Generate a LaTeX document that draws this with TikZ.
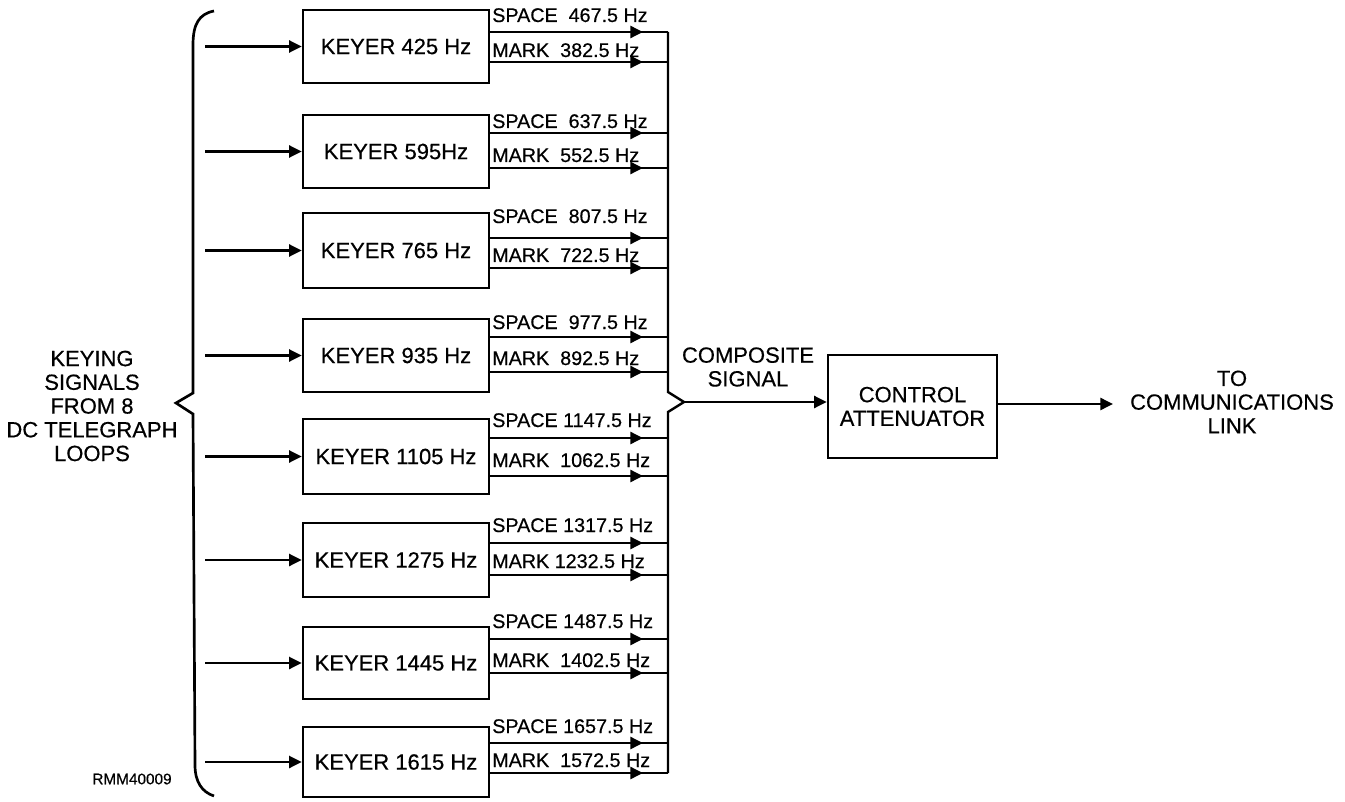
\documentclass[tikz,border=0pt]{standalone}
\usepackage{fontspec}
\setmainfont[FakeBold=0.5]{Liberation Sans}
\usetikzlibrary{arrows.meta}
\begin{document}
\begin{tikzpicture}[x=0.75pt,y=-0.75pt,
  keyer/.style={draw,line width=1.9pt,minimum width=139.5pt,inner sep=0pt,font=\fontsize{16.5}{19}\selectfont},
  flabel/.style={inner sep=0pt,anchor=base west,font=\fontsize{14.8}{17}\selectfont},
  wire/.style={line width=1.8pt},
  arr/.style={wire,-{Triangle[length=9.5pt,width=9pt]}},
  big/.style={font=\fontsize{16.5}{17.8}\selectfont,align=center,inner sep=0pt},
  small/.style={font=\fontsize{11.5}{13}\selectfont,inner sep=0pt}]
\useasboundingbox (0,0) rectangle (1345,802);
\foreach \i/\t/\b/\s/\m/\sb/\mb/\k/\sl/\ml in {
  1/10/83/32/62/22/57/{KEYER 425 Hz}/{SPACE\ \ 467.5 Hz}/{MARK\ \ 382.5 Hz},
  2/115/188/133/168/128/162/{KEYER 595Hz}/{SPACE\ \ 637.5 Hz}/{MARK\ \ 552.5 Hz},
  3/213/288/238/268/223/262/{KEYER 765 Hz}/{SPACE\ \ 807.5 Hz}/{MARK\ \ 722.5 Hz},
  4/319/392/337/372/329/365/{KEYER 935 Hz}/{SPACE\ \ 977.5 Hz}/{MARK\ \ 892.5 Hz},
  5/419/494/438/476/427/467/{KEYER 1105 Hz}/{SPACE 1147.5 Hz}/{MARK\ \ 1062.5 Hz},
  6/523/597/543/575/532/568/{KEYER 1275 Hz}/{SPACE 1317.5 Hz}/{MARK 1232.5 Hz},
  7/627/699/639/673/628/667/{KEYER 1445 Hz}/{SPACE 1487.5 Hz}/{MARK\ \ 1402.5 Hz},
  8/727/797/743/773/733/767/{KEYER 1615 Hz}/{SPACE 1657.5 Hz}/{MARK\ \ 1572.5 Hz}}
{
  \pgfmathsetmacro\h{(\b-\t)*0.75}
  \pgfmathsetmacro\c{(\t+\b)/2}
  \node[keyer,minimum height=\h pt] (k\i) at (396,\c) {\k};
  \coordinate (in\i) at (205,\c);
  \draw[arr] (in\i) -- (k\i.west);
  \coordinate (bs\i) at (668,\s);
  \coordinate (bm\i) at (668,\m);
  \coordinate (as\i) at (643,\s);
  \coordinate (am\i) at (643,\m);
  \draw[wire] (k\i.east |- bs\i) -- (bs\i);
  \draw[wire] (k\i.east |- bm\i) -- (bm\i);
  \draw[arr] (k\i.east |- bs\i) -- (as\i);
  \draw[arr] (k\i.east |- bm\i) -- (am\i);
  \node[flabel] (ls\i) at (492,\sb) {\sl};
  \node[flabel] (lm\i) at (492,\mb) {\ml};
}
% bus with tip
\coordinate (ctip) at (684,402);
\draw[wire,line join=miter] (bs1) -- (668,392) -- (ctip) -- (668,412) -- (bm8);
% brace
\draw[line width=2pt,line join=miter] (214,11) .. controls (199,14) and (193,24) .. (193,45)
  -- (193,393) -- (176,403) -- (193,414) -- (195,765)
  .. controls (195,782) and (202,792) .. (214,796);
\node[big] (keying) at (92,406) {KEYING\\SIGNALS\\FROM 8\\DC TELEGRAPH\\LOOPS};
\node[small] (rmm) at (132,779) {RMM40009};
% composite
\node[big] (comp) at (748,367) {COMPOSITE\\SIGNAL};
\node[draw,line width=1.9pt,minimum width=126.75pt,minimum height=77.25pt,big] (att) at (912.5,406.5) {CONTROL\\ATTENUATOR};
\draw[arr] (ctip) -- (att.west |- ctip);
\coordinate (out) at (1113,404);
\draw[arr] (att.east |- out) -- (out);
\node[big] (link) at (1232,402) {TO\\COMMUNICATIONS\\LINK};
\end{tikzpicture}
\end{document}
